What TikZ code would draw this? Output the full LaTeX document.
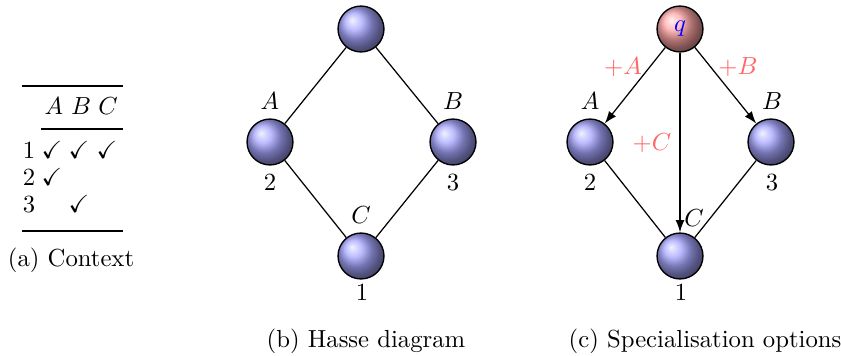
\documentclass[tikz,border=0pt]{standalone}
\usepackage{amssymb}
\usetikzlibrary{arrows.meta,shadings}
\begin{document}
\begin{tikzpicture}[x=0.405pt,y=-0.405pt,
  ballnode/.style={circle,draw=black,line width=0.55pt,minimum size=18.6pt,inner sep=0pt,ball color=blue!35},
  qball/.style={ballnode,ball color=red!35},
  lab/.style={anchor=base,inner sep=0pt},
  opt/.style={lab,text=red!60},
  edgeline/.style={line width=0.5pt},
  arr/.style={edgeline,-{Latex[length=5pt,width=3.6pt]}},
  thickrule/.style={line width=0.8pt},
  thinrule/.style={line width=0.5pt}]
\useasboundingbox (0,0) rectangle (841,356);
% ---------- (a) table ----------
\coordinate (tr1) at (22,86);  \coordinate (tr2) at (123,86);
\coordinate (mr1) at (41,129); \coordinate (mr2) at (123,129);
\coordinate (br1) at (22,231); \coordinate (br2) at (123,231);
\draw[thickrule] (tr1) -- (tr2);
\draw[thinrule] (mr1) -- (mr2);
\draw[thickrule] (br1) -- (br2);
\node[lab] (hA) at (54,115) {$A$};
\node[lab] (hB) at (81,115) {$B$};
\node[lab] (hC) at (108,115) {$C$};
\node[lab] (r1) at (29,158) {1};
\node[lab] (r1a) at (52,158) {$\checkmark$};
\node[lab] (r1b) at (79,158) {$\checkmark$};
\node[lab] (r1c) at (107,158) {$\checkmark$};
\node[lab] (r2) at (29,185) {2};
\node[lab] (r2a) at (52,185) {$\checkmark$};
\node[lab] (r3) at (29,212) {3};
\node[lab] (r3b) at (79,212) {$\checkmark$};
\node[lab] (capa) at (71,266) {(a) Context};
% ---------- (b) Hasse diagram ----------
\node[ballnode] (bt) at (361,29) {};
\node[ballnode] (bA) at (270,142) {};
\node[ballnode] (bB) at (453,142) {};
\node[ballnode] (bC) at (361,256) {};
\draw[edgeline] (bt) -- (bA);
\draw[edgeline] (bt) -- (bB);
\draw[edgeline] (bA) -- (bC);
\draw[edgeline] (bB) -- (bC);
\node[lab] (bAl) at (270,110) {$A$};
\node[lab] (bAn) at (270,190) {2};
\node[lab] (bBl) at (453,110) {$B$};
\node[lab] (bBn) at (453,190) {3};
\node[lab] (bCl) at (361,223) {$C$};
\node[lab] (bCn) at (362,300) {1};
\node[lab] (capb) at (366,347) {(b) Hasse diagram};
% ---------- (c) Specialisation options ----------
\node[qball] (cq) at (680,29) {\textcolor{blue}{$q$}};
\node[ballnode] (cA) at (590,142) {};
\node[ballnode] (cB) at (771,142) {};
\node[ballnode] (cC) at (680,256) {};
\draw[arr] (cq) -- (cA);
\draw[arr] (cq) -- (cB);
\draw[arr] (cq) -- (cC);
\draw[edgeline] (cA) -- (cC);
\draw[edgeline] (cB) -- (cC);
\node[opt] (pA) at (623,75) {$+A$};
\node[opt] (pB) at (738,75) {$+B$};
\node[opt] (pC) at (652,150) {$+C$};
\node[lab] (cAl) at (590,110) {$A$};
\node[lab] (cAn) at (590,190) {2};
\node[lab] (cBl) at (772,110) {$B$};
\node[lab] (cBn) at (772,190) {3};
\node[lab] (cCl) at (694,226) {$C$};
\node[lab] (cCn) at (681,300) {1};
\node[lab] (capc) at (705,347) {(c) Specialisation options};
\end{tikzpicture}
\end{document}
